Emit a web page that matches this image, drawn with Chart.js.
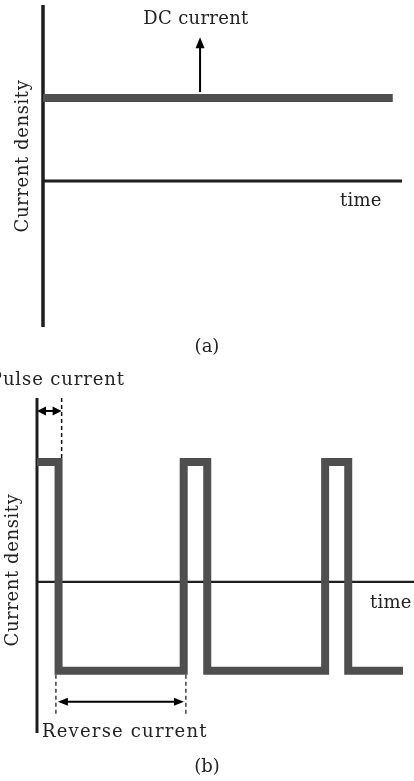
<!DOCTYPE html>
<html><head><meta charset="utf-8">
<script src="https://cdn.jsdelivr.net/npm/chart.js@4/dist/chart.umd.min.js"></script>
<style>
html,body{margin:0;padding:0;background:#fff;width:414px;height:781px;overflow:hidden}
#wa{position:absolute;left:0;top:0;width:414px;height:360px}
#wb{position:absolute;left:0;top:360px;width:414px;height:421px}
canvas{display:block}
</style></head><body>
<div id="wa"><canvas id="ca" width="414" height="360"></canvas></div>
<div id="wb"><canvas id="cb" width="414" height="421"></canvas></div>
<script>
// ---------- Panel (a): DC current ----------
const dcTimes = [0, 15.9];
const dcLevels = [1, 1];
const aTimeRange = [0, 16.32];
const aDensityRange = [-1.76, 2.12];
const dcArrow = [7.14, 1.07, 7.14, 1.73];          // x0, y0, x1, y1

// ---------- Panel (b): pulse reverse current ----------
const pulseTimes = [0, 0.98, 6.67, 7.74, 13.1, 14.15, 16.64];
const pulseLevels = [1, -0.74, 1, -0.74, 1, -0.74, -0.74];
const bTimeRange = [0, 17.14];
const bDensityRange = [-1.26, 1.533];
const pulseWidthArrow = [0, 1.425, 1.12, 1.425];
const pulseWidthDash = [1.12, 1.533, 1.12, 1.03];
const reverseArrow = [0.95, -1.0, 6.68, -1.0];
const reverseDashL = [0.86, -0.775, 0.86, -1.108];
const reverseDashR = [6.77, -0.775, 6.77, -1.108];

const SERIF = '"DejaVu Serif", "Liberation Serif", serif';
const TXT = '#222';
const WAVE = '#4f4f4f';
const AX = '#1e1e1e';

function seg(a) { return [{x: a[0], y: a[1]}, {x: a[2], y: a[3]}]; }
function lineDs(data, color, width, dash) {
  return {data, borderColor: color, borderWidth: width, borderDash: dash || [],
    pointRadius: 0, fill: false, tension: 0, clip: false,
    borderCapStyle: 'butt', borderJoinStyle: 'miter'};
}

const annot = {
  id: 'annot',
  afterDatasetsDraw(chart, args, opts) {
    const ctx = chart.ctx, xs = chart.scales.x, ys = chart.scales.y;
    ctx.save();
    (opts.arrows || []).forEach(a => {
      const x0 = xs.getPixelForValue(a.seg[0]), y0 = ys.getPixelForValue(a.seg[1]);
      const x1 = xs.getPixelForValue(a.seg[2]), y1 = ys.getPixelForValue(a.seg[3]);
      const ang = Math.atan2(y1 - y0, x1 - x0);
      const L = a.len, W = a.w;
      const cx = Math.cos(ang), sx = Math.sin(ang);
      const sx0 = a.both ? x0 + cx * L * 0.8 : x0, sy0 = a.both ? y0 + sx * L * 0.8 : y0;
      ctx.strokeStyle = '#000'; ctx.lineWidth = a.lw; ctx.lineCap = 'butt';
      ctx.beginPath(); ctx.moveTo(sx0, sy0); ctx.lineTo(x1 - cx * L * 0.8, y1 - sx * L * 0.8); ctx.stroke();
      const head = (tx, ty, c, s) => {
        ctx.fillStyle = '#000';
        ctx.beginPath();
        ctx.moveTo(tx, ty);
        ctx.lineTo(tx - c * L - s * W / 2, ty - s * L + c * W / 2);
        ctx.lineTo(tx - c * L + s * W / 2, ty - s * L - c * W / 2);
        ctx.closePath(); ctx.fill();
      };
      head(x1, y1, cx, sx);
      if (a.both) head(x0, y0, -cx, -sx);
    });
    (opts.texts || []).forEach(t => {
      ctx.save();
      ctx.font = t.font; ctx.fillStyle = TXT;
      ctx.textAlign = t.align; ctx.textBaseline = 'alphabetic';
      if ('letterSpacing' in ctx) ctx.letterSpacing = (t.ls || 0) + 'px';
      ctx.translate(t.px, t.py);
      if (t.rot) ctx.rotate(t.rot);
      ctx.fillText(t.text, 0, 0);
      ctx.restore();
    });
    ctx.restore();
  }
};

function baseOptions(xr, yr, pad, annotOpts) {
  return {
    responsive: false, animation: false, devicePixelRatio: 1, events: [],
    layout: {padding: pad},
    scales: {
      x: {type: 'linear', min: xr[0], max: xr[1], display: false},
      y: {type: 'linear', min: yr[0], max: yr[1], display: false}
    },
    plugins: {legend: {display: false}, tooltip: {enabled: false}, annot: annotOpts}
  };
}

// Chart (a)
new Chart(document.getElementById('ca'), {
  type: 'line',
  data: {datasets: [
    lineDs(dcTimes.map((t, i) => ({x: t, y: dcLevels[i]})), WAVE, 8),
    lineDs([{x: aTimeRange[0], y: 0}, {x: aTimeRange[1], y: 0}], AX, 3),
    lineDs([{x: 0, y: aDensityRange[0]}, {x: 0, y: aDensityRange[1]}], AX, 3.5)
  ]},
  options: baseOptions(aTimeRange, aDensityRange, {left: 43, right: 12, top: 5, bottom: 33}, {
    arrows: [{seg: dcArrow, both: false, len: 11, w: 9, lw: 2}],
    texts: [
      {text: 'DC current', px: 196, py: 24, align: 'center', ls: 0.3, font: '18px ' + SERIF},
      {text: 'time', px: 340, py: 206, align: 'left', ls: 0.2, font: '18px ' + SERIF},
      {text: 'Current density', px: 28, py: 156, align: 'center', ls: 0.6, rot: -Math.PI / 2, font: '18px ' + SERIF},
      {text: '(a)', px: 207, py: 352, align: 'center', font: '18px ' + SERIF}
    ]
  }),
  plugins: [annot]
});

// Chart (b)
new Chart(document.getElementById('cb'), {
  type: 'line',
  data: {datasets: [
    Object.assign(lineDs(pulseTimes.map((t, i) => ({x: t, y: pulseLevels[i]})), WAVE, 8), {stepped: 'before'}),
    lineDs([{x: bTimeRange[0], y: 0}, {x: bTimeRange[1], y: 0}], AX, 2.2),
    lineDs([{x: 0, y: bDensityRange[0]}, {x: 0, y: bDensityRange[1]}], AX, 3),
    lineDs(seg(pulseWidthDash), '#111', 1.5, [4, 3]),
    lineDs(seg(reverseDashL), '#111', 1.2, [4, 3]),
    lineDs(seg(reverseDashR), '#111', 1.2, [4, 3])
  ]},
  options: baseOptions(bTimeRange, bDensityRange, {left: 37, right: 0, top: 38, bottom: 48}, {
    arrows: [
      {seg: pulseWidthArrow, both: true, len: 9, w: 9, lw: 2},
      {seg: reverseArrow, both: true, len: 10, w: 8, lw: 2}
    ],
    texts: [
      {text: 'Pulse current', px: 125, py: 25, align: 'right', ls: 0.9, font: '18px ' + SERIF},
      {text: 'time', px: 370, py: 248, align: 'left', ls: 0.2, font: '18px ' + SERIF},
      {text: 'Current density', px: 18, py: 210, align: 'center', ls: 0.6, rot: -Math.PI / 2, font: '18px ' + SERIF},
      {text: 'Reverse current', px: 42, py: 377, align: 'left', ls: 1.2, font: '18px ' + SERIF},
      {text: '(b)', px: 207, py: 412, align: 'center', font: '18px ' + SERIF}
    ]
  }),
  plugins: [annot]
});
</script>
</body></html>
